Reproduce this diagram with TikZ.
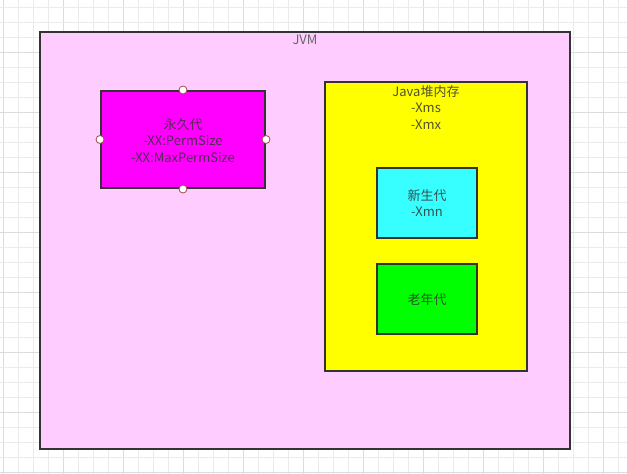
\documentclass[tikz,border=0pt]{standalone}
\usepackage{fontspec}
\setmainfont{Noto Sans CJK SC}
\definecolor{gridminor}{HTML}{EBEBEB}
\definecolor{gridmajor}{HTML}{DCDCDC}
\definecolor{jvmpink}{HTML}{FFCCFF}
\definecolor{permmag}{HTML}{FF00FF}
\definecolor{heapyel}{HTML}{FFFF00}
\definecolor{newcyan}{HTML}{38FFFF}
\definecolor{oldgreen}{HTML}{00FF00}
\definecolor{edge}{HTML}{333333}
\definecolor{handleedge}{HTML}{A04848}
\tikzset{
  box/.style={draw=edge, line width=2pt, rectangle, inner sep=0pt},
  lbl/.style={font=\fontsize{13}{16.5}\selectfont, text=edge, text opacity=0.85, align=center, inner sep=0pt},
  jvmlbl/.style={font=\fontsize{13}{16}\selectfont, text=black!60, inner sep=0pt},
  handle/.style={circle, draw=handleedge, fill=white, line width=0.8pt, minimum size=8pt, inner sep=0pt}
}
\begin{document}
\begin{tikzpicture}[x=1pt,y=-1pt]
\useasboundingbox (0,0) rectangle (627,474);
\fill[white] (0,0) rectangle (627,474);
% grid
\foreach \i in {0,...,41}{
  \pgfmathtruncatemacro{\m}{mod(\i,4)}
  \ifnum\m=0
    \draw[gridmajor, line width=1pt] (3+15*\i,0) -- (3+15*\i,474);
  \else
    \draw[gridminor, line width=1pt] (3+15*\i,0) -- (3+15*\i,474);
  \fi
}
\foreach \j in {0,...,31}{
  \pgfmathtruncatemacro{\m}{mod(\j,4)}
  \ifnum\m=3
    \draw[gridmajor, line width=1pt] (0,7+15*\j) -- (627,7+15*\j);
  \else
    \draw[gridminor, line width=1pt] (0,7+15*\j) -- (627,7+15*\j);
  \fi
}
% boxes
\node[box, fill=jvmpink, minimum width=530pt, minimum height=417pt] (jvm) at (305,240.5) {};
\node[jvmlbl] (jvmlabel) at (305,40) {JVM};
\node[box, fill=permmag, minimum width=164pt, minimum height=97pt] (perm) at (183,139.5) {};
\node[lbl] (permlabel) at (183,140.5) {永久代\\-XX:PermSize\\-XX:MaxPermSize};
\node[box, fill=heapyel, minimum width=202pt, minimum height=289pt] (heap) at (426,226.5) {};
\node[lbl] (heaplabel) at (426,107.5) {Java堆内存\\-Xms\\-Xmx};
\node[box, fill=newcyan, minimum width=100pt, minimum height=70pt] (young) at (427,203) {};
\node[lbl] (younglabel) at (427,203) {新生代\\-Xmn};
\node[box, fill=oldgreen, minimum width=100pt, minimum height=70pt] (old) at (427,299) {};
\node[lbl] (oldlabel) at (427,299.5) {老年代};
% selection handles
\node[handle] (hn) at (perm.north) {};
\node[handle] (hs) at (perm.south) {};
\node[handle] (hw) at (perm.west) {};
\node[handle] (he) at (perm.east) {};
\end{tikzpicture}
\end{document}
